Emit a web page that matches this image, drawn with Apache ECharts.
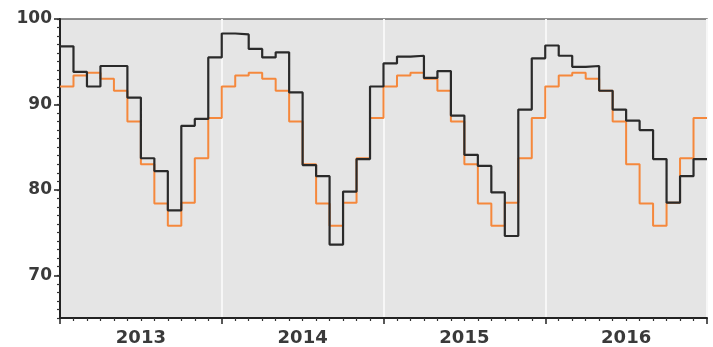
<!DOCTYPE html>
<html>
<head>
<meta charset="utf-8">
<style>
  html, body { margin: 0; padding: 0; background: #ffffff; }
  #chart { width: 713px; height: 347px; }
</style>
<script src="https://cdn.jsdelivr.net/npm/echarts@6/dist/echarts.min.js"></script>
</head>
<body>
<div id="chart"></div>
<script>
// Year labels (x axis)
const years = ['2013', '2014', '2015', '2016'];

// Monthly values, Jan 2013 .. Dec 2016 (black series)
const blackSeries = [
  96.8, 93.8, 92.1, 94.5, 94.5, 90.8, 83.7, 82.2, 77.6, 87.5, 88.3, 95.5,
  98.3, 98.2, 96.5, 95.5, 96.1, 91.4, 82.9, 81.6, 73.6, 79.8, 83.6, 92.1,
  94.8, 95.6, 95.7, 93.1, 93.9, 88.7, 84.1, 82.8, 79.7, 74.6, 89.4, 95.4,
  96.9, 95.7, 94.4, 94.5, 91.6, 89.4, 88.1, 87.0, 83.6, 78.5, 81.6, 83.6
];

// Monthly values, Jan 2013 .. Dec 2016 (orange series)
const orangeSeries = [
  92.1, 93.4, 93.7, 93.0, 91.6, 88.0, 83.0, 78.4, 75.8, 78.5, 83.7, 88.4,
  92.1, 93.4, 93.7, 93.0, 91.6, 88.0, 83.0, 78.4, 75.8, 78.5, 83.7, 88.4,
  92.1, 93.4, 93.7, 93.0, 91.6, 88.0, 83.0, 78.4, 75.8, 78.5, 83.7, 88.4,
  92.1, 93.4, 93.7, 93.0, 91.6, 88.0, 83.0, 78.4, 75.8, 78.5, 83.7, 88.4
];

// Y tick labels
const yLabels = [70, 80, 90, 100];
const yMin = 65, yMax = 100;

function toSteps(vals) {
  const pts = vals.map((v, i) => [i, v]);
  pts.push([vals.length, vals[vals.length - 1]]);
  return pts;
}

const yMinorTicks = [];
for (let v = yMin; v <= yMax; v++) yMinorTicks.push(v);

const chart = echarts.init(document.getElementById('chart'), null, { renderer: 'canvas' });
const fontFamily = 'DejaVu Sans';

chart.setOption({
  animation: false,
  backgroundColor: '#ffffff',
  grid: {
    left: 60, right: 6, top: 19, bottom: 23,
    show: true,
    backgroundColor: '#e5e5e5',
    borderColor: '#6a6a6a',
    borderWidth: 1.5
  },
  xAxis: [
    {
      type: 'value',
      min: 0, max: blackSeries.length, interval: 12,
      axisLine: { show: true, lineStyle: { color: '#222', width: 2 } },
      axisTick: { show: true, length: 6, lineStyle: { color: '#222', width: 1.5 } },
      minorTick: { show: true, splitNumber: 12, length: 3, lineStyle: { color: '#333', width: 1.2 } },
      axisLabel: { show: false },
      splitLine: { show: true, lineStyle: { color: '#f7f7f7', width: 2 } }
    },
    {
      type: 'category',
      data: years,
      boundaryGap: true,
      position: 'bottom',
      axisLine: { show: false },
      axisTick: { show: false },
      splitLine: { show: false },
      axisLabel: { show: true, color: '#3a3a3a', fontSize: 18, fontWeight: 'bold', fontFamily: fontFamily, margin: 11 }
    }
  ],
  yAxis: [
    {
      type: 'value',
      min: yMin, max: yMax,
      position: 'left',
      axisLine: { show: true, lineStyle: { color: '#222', width: 2 } },
      axisTick: { show: true, length: 6, customValues: yLabels, lineStyle: { color: '#222', width: 1.5 } },
      axisLabel: { show: true, customValues: yLabels, color: '#3a3a3a', fontSize: 17, fontWeight: 'bold', fontFamily: fontFamily, margin: 8 },
      splitLine: { show: false }
    },
    {
      type: 'value',
      min: yMin, max: yMax,
      position: 'left',
      offset: 0,
      axisLine: { show: false },
      axisTick: { show: true, length: 3, customValues: yMinorTicks, lineStyle: { color: '#333', width: 1.2 } },
      axisLabel: { show: false },
      splitLine: { show: false }
    }
  ],
  series: [
    {
      type: 'line',
      xAxisIndex: 0, yAxisIndex: 0,
      step: 'end',
      symbol: 'none',
      data: toSteps(orangeSeries),
      lineStyle: { color: '#f5883c', width: 2 }
    },
    {
      type: 'line',
      xAxisIndex: 0, yAxisIndex: 0,
      step: 'end',
      symbol: 'none',
      data: toSteps(blackSeries),
      lineStyle: { color: '#2a2a2a', width: 2.2 }
    }
  ]
});
</script>
</body>
</html>
